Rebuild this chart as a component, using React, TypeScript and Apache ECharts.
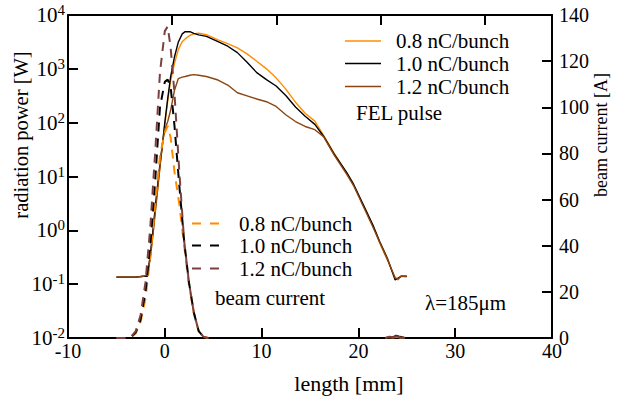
import React, { useEffect, useRef } from 'react';
import * as echarts from 'echarts';

// FEL pulse: length [mm] vs radiation power [W]
const xFel = [-5, -4, -3, -2.2, -1.8, -1.5, -1.2, -0.9, -0.6, -0.3, 0, 0.3, 0.6, 1.0, 1.4, 1.8, 2.1, 2.6, 3.0, 3.5, 4.3, 5.5, 6.5, 7.5, 8.5, 9.5, 10.5, 11.5, 12.5, 13.5, 14.5, 15.5, 16.4, 17.5, 18.8, 19.5, 20.5, 21.5, 22.2, 23.0, 23.8, 24.1, 24.4, 25.0];
const fel08 = [0.135, 0.135, 0.135, 0.14, 0.15, 0.32, 1.0, 3.2, 10, 32, 90, 250, 600, 1260, 2300, 3200, 3600, 4200, 4450, 4600, 4300, 3450, 2950, 2450, 1900, 1380, 1000, 680, 420, 240, 150, 107, 58, 27, 11.5, 6.9, 2.9, 1.2, 0.58, 0.28, 0.13, 0.12, 0.14, 0.135];
const fel10 = [0.135, 0.135, 0.135, 0.14, 0.14, 0.35, 1.1, 3.8, 12, 32, 100, 280, 710, 1660, 3160, 4470, 4900, 4900, 4570, 4270, 4000, 3200, 2630, 2000, 1320, 850, 630, 480, 320, 195, 132, 93, 56, 26, 11.8, 7.2, 3.0, 1.25, 0.62, 0.3, 0.12, 0.13, 0.14, 0.14];
const fel12 = [0.135, 0.135, 0.135, 0.14, 0.15, 0.3, 0.9, 3.0, 10, 35, 75, 105, 170, 400, 660, 700, 720, 760, 780, 760, 720, 620, 500, 360, 315, 275, 245, 200, 140, 105, 85, 74, 55, 25, 11, 6.8, 2.8, 1.15, 0.6, 0.29, 0.13, 0.125, 0.14, 0.14];

// beam current: length [mm] vs current [A]
const xCur = [-5, -4, -3.5, -3, -2.5, -2, -1.5, -1, -0.5, 0, 0.3, 0.6, 1.0, 1.5, 2.0, 2.5, 3.0, 3.5, 4, 4.5];
const cur08 = [0, 0, 0.3, 2, 7, 17, 35, 58, 79, 89, 92, 87, 72, 58, 40, 23, 11, 3, 0.5, 0];
const cur10 = [0, 0, 0.4, 2.5, 8, 20, 40, 68, 100, 111, 112, 109, 92, 66, 42, 24, 11, 3, 0.5, 0];
const cur12 = [0, 0, 0.5, 3, 10, 24, 48, 80, 115, 133, 135, 126, 106, 72, 42, 24, 11, 3, 0.5, 0];
const xCurTail = [22.8, 23.2, 23.6, 23.9, 24.3, 24.8];
const tail08 = [0, 0.3, 0.2, 0.5, 0.2, 0];
const tail10 = [0, 0.2, 0.4, 1.0, 0.5, 0];
const tail12 = [0, 0.6, 0.3, 0.8, 0.3, 0];

const chargeLabels = ['0.8 nC/bunch', '1.0 nC/bunch', '1.2 nC/bunch'];
const solidColors = ['#ff8c00', '#000000', '#8b4513'];
const dashedColors = ['#ff8c00', '#000000', '#7d4040'];

const FONT = 'Liberation Serif';

const pair = (xs: number[], ys: number[]) => xs.map((x, i) => [x, ys[i]]);

export default function App() {
  const ref = useRef<HTMLDivElement>(null);
  useEffect(() => {
    if (!ref.current) return;
    const chart = echarts.init(ref.current, null, { renderer: 'svg' });
    const felSets = [fel08, fel10, fel12];
    const curSets = [cur08, cur10, cur12];
    const tailSets = [tail08, tail10, tail12];
    const series: any[] = [];
    felSets.forEach((d, i) => {
      series.push({
        type: 'line', name: 'FEL ' + chargeLabels[i], xAxisIndex: 0, yAxisIndex: 0,
        data: pair(xFel, d), symbol: 'none', smooth: false,
        lineStyle: { color: solidColors[i], width: 1.4 },
      });
    });
    curSets.forEach((d, i) => {
      series.push({
        type: 'line', name: 'current ' + chargeLabels[i], xAxisIndex: 0, yAxisIndex: 1,
        data: pair(xCur, d), symbol: 'none',
        lineStyle: { color: dashedColors[i], width: 2, type: [9, 7] },
      });
      series.push({
        type: 'line', name: 'tail ' + chargeLabels[i], xAxisIndex: 0, yAxisIndex: 1,
        data: pair(xCurTail, tailSets[i]), symbol: 'none',
        lineStyle: { color: dashedColors[i], width: 2 },
      });
    });

    const txt = (x: number, y: number, text: string, size = 21) => ({
      type: 'text', x, y,
      style: { text, fontSize: size, fontFamily: FONT, fill: '#000', verticalAlign: 'middle', align: 'left' },
    });
    const graphic: any[] = [];
    const solidRows = [41, 63.5, 86.5];
    solidRows.forEach((y, i) => {
      graphic.push({ type: 'line', shape: { x1: 345, y1: y, x2: 381, y2: y }, style: { stroke: solidColors[i], lineWidth: 1.5 } });
      graphic.push(txt(396, y, chargeLabels[i]));
    });
    graphic.push(txt(356, 113, 'FEL pulse'));
    const dashRows = [223.5, 245.5, 268.5];
    dashRows.forEach((y, i) => {
      graphic.push({ type: 'line', shape: { x1: 192, y1: y, x2: 221, y2: y }, style: { stroke: dashedColors[i], lineWidth: 2, lineDash: [9, 9] } });
      graphic.push(txt(239, y, chargeLabels[i]));
    });
    graphic.push(txt(215, 298, 'beam current'));
    graphic.push(txt(425, 303, 'λ=185μm'));
    graphic.push({ type: 'text', x: 21, y: 135, rotation: Math.PI / 2, style: { text: 'radiation power [W]', fontSize: 20.5, fontFamily: FONT, fill: '#000', align: 'center', verticalAlign: 'middle' } });
    graphic.push({ type: 'text', x: 601, y: 135, rotation: Math.PI / 2, style: { text: 'beam current [A]', fontSize: 18, fontFamily: FONT, fill: '#000', align: 'center', verticalAlign: 'middle' } });
    graphic.push({ type: 'text', x: 349, y: 383, style: { text: 'length [mm]', fontSize: 22, fontFamily: FONT, fill: '#000', align: 'center', verticalAlign: 'middle' } });

    const axisLine = () => ({ show: true, onZero: false, lineStyle: { color: '#000', width: 2 } });
    const axisTick = () => ({ show: true, inside: true, length: 10, lineStyle: { color: '#000', width: 2 } });

    chart.setOption({
      animation: false,
      textStyle: { fontFamily: FONT },
      grid: { left: 68, right: 73, top: 15, bottom: 65, containLabel: false },
      xAxis: [
        {
          type: 'value', min: -10, max: 40, interval: 10, position: 'bottom',
          axisLine: axisLine(), axisTick: axisTick(), splitLine: { show: false },
          axisLabel: { fontSize: 20, color: '#000', fontFamily: FONT, margin: 3 },
        },
        {
          type: 'value', min: 0, max: 4.645, interval: 1, position: 'top',
          axisLine: axisLine(), axisTick: axisTick(), splitLine: { show: false }, axisLabel: { show: false },
        },
      ],
      yAxis: [
        {
          type: 'log', logBase: 10, min: 0.01, max: 10000, splitNumber: 6, position: 'left',
          axisLine: axisLine(), axisTick: axisTick(), splitLine: { show: false }, minorTick: { show: false },
          axisLabel: {
            margin: 3, color: '#000',
            formatter: (v: number) => `{b|10}{s|${Math.round(Math.log10(v))}}`,
            rich: {
              b: { fontSize: 21, fontFamily: FONT, color: '#000' },
              s: { fontSize: 15, fontFamily: FONT, color: '#000', padding: [0, 0, 10, 0] },
            },
          },
        },
        {
          type: 'value', min: 0, max: 140, interval: 20, position: 'right',
          axisLine: axisLine(), axisTick: axisTick(), splitLine: { show: false },
          axisLabel: { fontSize: 20, color: '#000', fontFamily: FONT, margin: 7 },
        },
      ],
      series,
      graphic,
    });
    return () => chart.dispose();
  }, []);
  return <div ref={ref} style={{ position: 'absolute', left: 0, top: 0, width: 625, height: 403 }} />;
}
